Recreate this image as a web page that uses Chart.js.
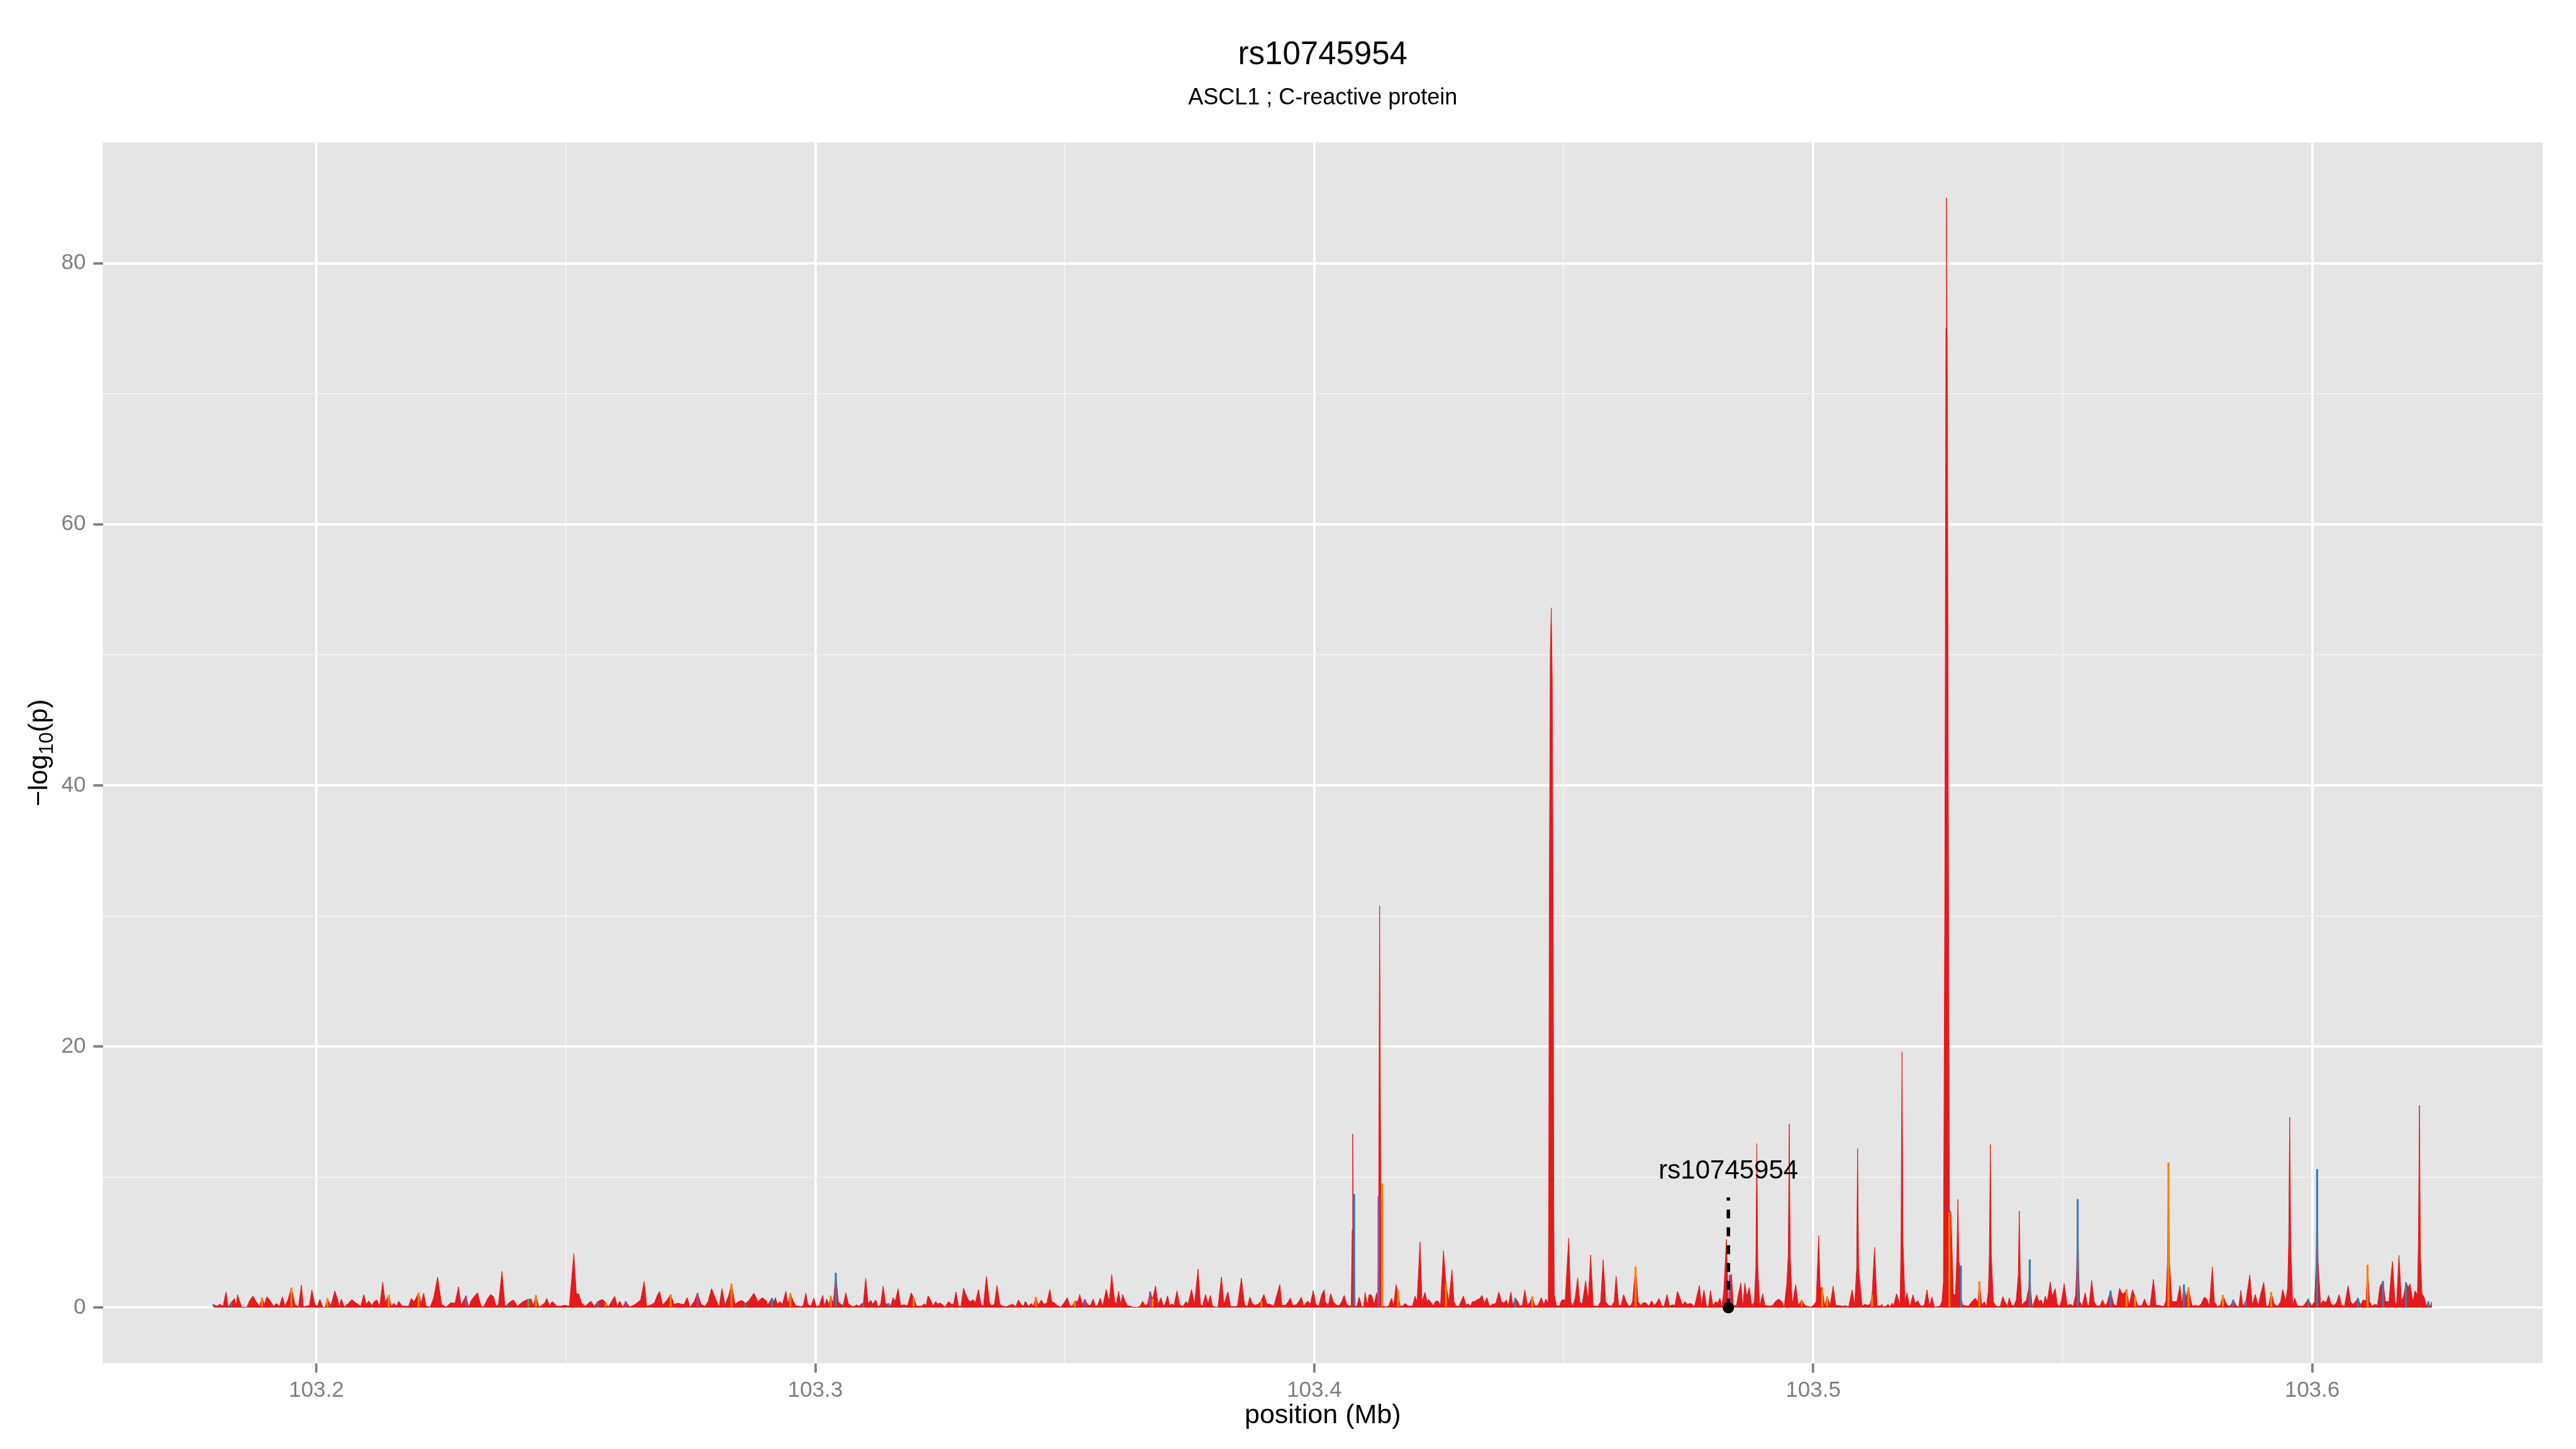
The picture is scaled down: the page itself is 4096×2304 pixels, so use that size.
<!DOCTYPE html>
<html>
<head>
<meta charset="utf-8">
<script src="https://cdn.jsdelivr.net/npm/chart.js@4.4.0/dist/chart.umd.min.js"></script>
<style>
  html, body { margin: 0; padding: 0; background: #fff; }
  #wrap { width: 4096px; height: 2304px; }
</style>
</head>
<body>
<div id="wrap"><canvas id="plot" width="4096" height="2304"></canvas></div>
<script>
// ---- data: [position (Mb), -log10(p)] ----
const titleText = 'rs10745954';
const subtitleText = 'ASCL1 ; C-reactive protein';
const xTitle = 'position (Mb)';

const xLimits = [103.1572, 103.6462];
const yLimits = [-4.25, 89.25];
const xMajor = [103.2, 103.3, 103.4, 103.5, 103.6];
const xMinor = [103.25, 103.35, 103.45, 103.55];
const yMajor = [0, 20, 40, 60, 80];
const yMinor = [10, 30, 50, 70];

// red area, 103.18 - 103.29
const redA = [[103.1794,0.26],[103.1800,0.12],[103.1807,0.26],[103.1813,0.12],[103.1819,1.22],[103.1823,0.05],[103.1829,0.40],[103.1836,0.71],[103.1839,0.15],[103.1842,1.00],[103.1850,0.05],[103.1861,0.05],[103.1866,0.53],[103.1873,0.90],[103.1879,0.47],[103.1886,0.12],[103.1891,0.77],[103.1896,0.26],[103.1901,0.85],[103.1909,0.44],[103.1914,0.12],[103.1920,0.33],[103.1926,0.12],[103.1932,0.84],[103.1937,0.12],[103.1943,0.60],[103.1950,1.53],[103.1957,0.26],[103.1964,0.05],[103.1970,1.74],[103.1974,0.08],[103.1980,0.12],[103.1986,0.19],[103.1991,1.36],[103.1997,0.26],[103.2002,0.12],[103.2007,0.64],[103.2013,0.05],[103.2018,0.05],[103.2022,0.70],[103.2029,0.12],[103.2037,1.29],[103.2043,0.58],[103.2046,0.05],[103.2050,0.67],[103.2056,0.05],[103.2064,0.33],[103.2071,0.63],[103.2078,0.40],[103.2089,0.12],[103.2095,1.01],[103.2100,0.26],[103.2105,0.53],[103.2111,0.16],[103.2116,0.47],[103.2121,0.60],[103.2127,0.12],[103.2133,1.97],[103.2138,0.40],[103.2145,0.95],[103.2150,0.12],[103.2155,0.33],[103.2161,0.12],[103.2165,0.50],[103.2171,0.16],[103.2180,0.12],[103.2185,0.12],[103.2190,0.71],[103.2196,0.47],[103.2205,1.15],[103.2210,0.33],[103.2215,1.12],[103.2220,0.12],[103.2228,0.05],[103.2235,0.74],[103.2243,2.34],[103.2251,0.26],[103.2260,0.05],[103.2269,0.37],[103.2278,0.36],[103.2285,1.60],[103.2290,0.19],[103.2300,0.92],[103.2305,0.05],[103.2310,0.53],[103.2315,0.80],[103.2323,1.15],[103.2330,0.12],[103.2335,0.05],[103.2343,0.67],[103.2349,1.01],[103.2355,0.85],[103.2360,0.12],[103.2365,0.26],[103.2372,2.79],[103.2378,0.12],[103.2383,0.26],[103.2389,0.47],[103.2395,0.60],[103.2403,0.12],[103.2414,0.47],[103.2425,0.67],[103.2430,0.67],[103.2435,0.12],[103.2440,0.95],[103.2446,0.05],[103.2457,0.33],[103.2462,0.71],[103.2467,0.16],[103.2473,0.47],[103.2482,0.12],[103.2489,0.12],[103.2498,0.19],[103.2507,0.12],[103.2516,4.14],[103.2521,1.08],[103.2526,1.04],[103.2532,0.33],[103.2539,0.12],[103.2550,0.50],[103.2557,0.12],[103.2564,0.47],[103.2573,0.64],[103.2580,0.40],[103.2585,0.05],[103.2598,0.88],[103.2603,0.12],[103.2608,0.51],[103.2614,0.05],[103.2620,0.47],[103.2628,0.05],[103.2639,0.26],[103.2650,0.60],[103.2657,2.01],[103.2662,0.12],[103.2671,0.22],[103.2678,0.40],[103.2684,1.01],[103.2688,1.25],[103.2694,0.19],[103.2703,0.60],[103.2710,1.01],[103.2717,0.26],[103.2725,0.36],[103.2732,0.26],[103.2737,0.26],[103.2743,0.78],[103.2749,0.05],[103.2757,0.47],[103.2764,1.12],[103.2771,0.26],[103.2779,0.12],[103.2785,0.47],[103.2792,1.47],[103.2801,0.60],[103.2807,0.05],[103.2813,1.47],[103.2819,0.19],[103.2827,1.01],[103.2832,1.84],[103.2839,0.26],[103.2846,0.47],[103.2853,0.56],[103.2860,0.33],[103.2867,0.56],[103.2877,1.11],[103.2885,0.47],[103.2894,0.78],[103.2903,0.47]];

// red area, 103.29 - 103.40
const redB = [[103.2904,0.19],[103.2913,0.74],[103.2917,0.47],[103.2920,0.77],[103.2924,0.26],[103.2929,0.47],[103.2934,0.26],[103.2941,1.26],[103.2945,0.26],[103.2950,1.10],[103.2956,0.47],[103.2961,0.16],[103.2967,0.12],[103.2972,0.08],[103.2976,0.19],[103.2981,1.12],[103.2985,0.26],[103.2991,0.12],[103.2997,0.74],[103.3002,0.08],[103.3008,0.19],[103.3015,0.95],[103.3018,0.12],[103.3023,0.67],[103.3027,0.26],[103.3031,0.90],[103.3036,0.33],[103.3041,2.66],[103.3046,0.47],[103.3051,0.26],[103.3056,0.19],[103.3061,1.15],[103.3066,0.33],[103.3070,0.19],[103.3076,0.08],[103.3083,0.22],[103.3088,0.12],[103.3093,0.33],[103.3096,0.26],[103.3101,2.25],[103.3106,0.26],[103.3111,0.58],[103.3115,0.26],[103.3121,0.60],[103.3126,0.08],[103.3131,0.26],[103.3136,1.66],[103.3141,0.26],[103.3147,0.33],[103.3151,0.12],[103.3156,0.78],[103.3160,0.47],[103.3166,1.45],[103.3171,0.19],[103.3178,0.22],[103.3185,0.16],[103.3192,1.15],[103.3197,0.77],[103.3203,0.12],[103.3208,0.12],[103.3213,0.12],[103.3218,0.30],[103.3222,0.16],[103.3226,0.92],[103.3231,0.60],[103.3236,0.12],[103.3241,0.47],[103.3246,0.26],[103.3249,0.38],[103.3254,0.26],[103.3260,0.05],[103.3267,0.47],[103.3273,0.26],[103.3277,0.26],[103.3282,1.22],[103.3287,0.12],[103.3292,0.12],[103.3297,1.49],[103.3302,1.01],[103.3307,0.56],[103.3312,0.47],[103.3316,0.63],[103.3321,0.40],[103.3327,1.40],[103.3332,0.26],[103.3337,0.12],[103.3343,2.42],[103.3349,0.40],[103.3353,0.16],[103.3359,0.26],[103.3364,1.70],[103.3370,0.26],[103.3376,0.12],[103.3383,0.08],[103.3389,0.19],[103.3396,0.26],[103.3402,0.08],[103.3407,0.60],[103.3412,0.26],[103.3417,0.12],[103.3421,0.49],[103.3427,0.12],[103.3433,0.33],[103.3437,0.12],[103.3442,0.81],[103.3447,0.19],[103.3453,0.60],[103.3458,0.26],[103.3464,0.36],[103.3470,1.40],[103.3474,0.47],[103.3480,0.36],[103.3485,0.16],[103.3492,0.05],[103.3499,0.40],[103.3505,0.77],[103.3510,0.16],[103.3515,0.12],[103.3520,0.51],[103.3526,0.47],[103.3530,1.01],[103.3535,0.26],[103.3540,0.63],[103.3546,0.22],[103.3551,0.16],[103.3557,0.67],[103.3561,0.12],[103.3566,0.19],[103.3571,0.74],[103.3576,0.12],[103.3583,1.40],[103.3589,0.47],[103.3594,2.55],[103.3600,0.47],[103.3603,0.26],[103.3608,1.26],[103.3612,0.26],[103.3616,1.01],[103.3621,0.47],[103.3626,0.16],[103.3631,0.12],[103.3638,0.03],[103.3646,0.05],[103.3651,0.12],[103.3656,0.50],[103.3661,0.19],[103.3666,0.26],[103.3671,1.22],[103.3676,0.67],[103.3682,1.67],[103.3687,0.26],[103.3693,0.77],[103.3697,0.16],[103.3701,0.26],[103.3706,0.92],[103.3710,0.16],[103.3714,0.30],[103.3719,0.19],[103.3725,1.29],[103.3730,0.26],[103.3735,0.12],[103.3738,0.16],[103.3743,0.47],[103.3747,0.26],[103.3754,1.40],[103.3760,0.26],[103.3767,2.96],[103.3772,0.26],[103.3776,0.12],[103.3782,1.01],[103.3787,0.33],[103.3792,0.95],[103.3796,0.12],[103.3802,0.05],[103.3807,0.05],[103.3814,2.36],[103.3819,0.26],[103.3827,1.22],[103.3832,0.12],[103.3839,0.08],[103.3846,0.12],[103.3854,2.27],[103.3860,0.26],[103.3866,0.08],[103.3871,0.81],[103.3876,0.33],[103.3881,0.19],[103.3887,0.26],[103.3893,0.49],[103.3899,1.01],[103.3905,0.30],[103.3912,0.26],[103.3919,0.12],[103.3931,1.79],[103.3935,0.19],[103.3942,0.19],[103.3947,0.40],[103.3952,0.74],[103.3957,0.19],[103.3964,0.22],[103.3969,0.47],[103.3974,0.81],[103.3979,0.12],[103.3984,0.40],[103.3987,0.51],[103.3992,0.26],[103.3998,1.32],[103.4003,0.26],[103.4009,0.12],[103.4015,1.01],[103.4020,1.38]];

// red area, 103.40 - 103.51
const redC = [[103.4022,0.47],[103.4028,0.16],[103.4033,1.08],[103.4038,0.47],[103.4043,0.22],[103.4050,0.16],[103.4055,0.47],[103.4060,0.95],[103.4065,0.26],[103.4070,0.16],[103.4074,0.12],[103.4076,6.0],[103.4077,13.3],[103.4079,5.0],[103.4082,0.16],[103.4085,0.05],[103.4090,0.81],[103.4095,0.08],[103.4099,0.08],[103.4102,1.18],[103.4106,0.19],[103.4110,1.01],[103.4115,0.95],[103.4120,0.26],[103.4125,1.15],[103.4127,0.12],[103.4129,6.0],[103.4131,30.8],[103.4133,12.0],[103.4135,1.0],[103.4138,0.12],[103.4143,0.05],[103.4149,0.12],[103.4155,0.74],[103.4159,0.12],[103.4164,1.77],[103.4168,1.15],[103.4172,0.12],[103.4177,0.12],[103.4182,0.33],[103.4187,0.16],[103.4192,0.12],[103.4197,0.15],[103.4202,0.88],[103.4206,0.47],[103.4212,5.05],[103.4216,0.47],[103.4222,1.18],[103.4226,0.47],[103.4229,0.63],[103.4233,0.47],[103.4238,0.16],[103.4244,0.53],[103.4249,0.47],[103.4253,0.16],[103.4259,4.37],[103.4264,1.77],[103.4270,0.47],[103.4276,2.90],[103.4280,0.47],[103.4284,0.12],[103.4290,0.12],[103.4294,0.47],[103.4299,0.90],[103.4304,0.22],[103.4309,0.30],[103.4313,0.12],[103.4317,0.47],[103.4321,0.47],[103.4326,0.60],[103.4332,0.71],[103.4336,0.95],[103.4341,0.36],[103.4346,0.77],[103.4351,0.12],[103.4357,0.26],[103.4364,0.33],[103.4370,1.22],[103.4375,0.47],[103.4380,0.36],[103.4385,0.60],[103.4389,0.16],[103.4394,1.22],[103.4398,0.19],[103.4403,0.74],[103.4408,0.47],[103.4412,0.12],[103.4417,0.19],[103.4422,1.38],[103.4427,0.19],[103.4432,0.40],[103.4437,0.85],[103.4442,0.16],[103.4448,0.16],[103.4455,0.77],[103.4460,0.22],[103.4464,0.67],[103.4468,0.40],[103.4469,0.60],[103.4470,10.0],[103.4471,30.0],[103.4473,50.0],[103.4475,53.6],[103.4477,48.0],[103.4479,28.0],[103.4480,8.0],[103.4481,1.0],[103.4485,0.19],[103.4491,0.12],[103.4496,0.60],[103.4503,0.60],[103.4510,5.33],[103.4514,0.47],[103.4518,0.12],[103.4523,0.74],[103.4528,2.29],[103.4532,0.47],[103.4537,0.26],[103.4544,2.07],[103.4549,0.47],[103.4554,4.05],[103.4559,0.19],[103.4564,0.12],[103.4569,0.12],[103.4574,0.47],[103.4579,3.68],[103.4584,0.47],[103.4589,0.19],[103.4596,0.12],[103.4601,0.47],[103.4605,2.41],[103.4610,0.19],[103.4615,0.19],[103.4620,1.01],[103.4625,0.47],[103.4629,0.19],[103.4634,0.12],[103.4638,0.47],[103.4644,3.14],[103.4649,0.47],[103.4654,0.19],[103.4660,0.40],[103.4665,0.36],[103.4671,0.12],[103.4676,0.53],[103.4681,0.19],[103.4686,0.36],[103.4691,0.71],[103.4696,0.19],[103.4701,0.08],[103.4707,1.01],[103.4712,0.12],[103.4717,0.22],[103.4723,0.19],[103.4728,1.26],[103.4733,0.74],[103.4738,0.19],[103.4743,0.47],[103.4748,0.26],[103.4753,0.33],[103.4756,0.30],[103.4762,0.08],[103.4767,0.90],[103.4772,1.70],[103.4776,0.19],[103.4781,1.36],[103.4786,0.16],[103.4790,0.05],[103.4794,1.32],[103.4799,0.16],[103.4805,0.47],[103.4809,0.36],[103.4813,0.74],[103.4817,0.05],[103.4821,1.42],[103.4826,5.23],[103.4830,0.47],[103.4833,0.40],[103.4836,2.59],[103.4840,0.19],[103.4846,0.16],[103.4850,1.01],[103.4855,1.90],[103.4859,0.05],[103.4863,1.90],[103.4867,0.88],[103.4872,1.56],[103.4877,0.12],[103.4882,0.47],[103.4885,3.0],[103.4887,12.58],[103.4889,3.0],[103.4893,0.12],[103.4899,1.08],[103.4903,0.19],[103.4907,0.16],[103.4913,0.12],[103.4919,0.19],[103.4924,0.47],[103.4931,0.67],[103.4937,0.47],[103.4942,0.05],[103.4947,1.77],[103.4950,4.0],[103.4952,14.08],[103.4954,4.0],[103.4958,0.19],[103.4965,1.77],[103.4970,0.19],[103.4977,0.60],[103.4983,0.19],[103.4988,0.12],[103.4995,0.05],[103.5000,0.16],[103.5006,0.47],[103.5011,5.53],[103.5014,1.5],[103.5018,1.56],[103.5023,0.12],[103.5028,0.85],[103.5034,0.19],[103.5040,1.67],[103.5045,0.19],[103.5052,0.16],[103.5059,0.12],[103.5066,0.16],[103.5071,0.05],[103.5078,1.36],[103.5083,0.19],[103.5087,3.0],[103.5089,12.2],[103.5091,3.0],[103.5098,0.12],[103.5103,0.26],[103.5109,0.19],[103.5114,0.26],[103.5118,0.95],[103.5123,4.64],[103.5128,0.19],[103.5134,0.12],[103.5138,0.26]];

// red area, 103.51 - 103.624
const redD = [[103.5140,0.05],[103.5146,0.12],[103.5150,0.26],[103.5154,0.05],[103.5158,0.36],[103.5161,0.12],[103.5167,1.08],[103.5172,0.47],[103.5174,0.3],[103.5176,5.0],[103.5178,19.6],[103.5180,5.0],[103.5184,0.47],[103.5188,1.15],[103.5193,0.12],[103.5195,0.26],[103.5200,0.99],[103.5204,0.36],[103.5210,0.53],[103.5214,0.19],[103.5218,0.12],[103.5223,0.22],[103.5228,1.36],[103.5233,0.12],[103.5238,0.81],[103.5243,0.05],[103.5248,0.08],[103.5254,0.12],[103.5258,0.47],[103.5261,2.0],[103.5264,35.0],[103.5266,75.0],[103.5267,85.0],[103.5269,70.0],[103.5271,35.0],[103.5273,7.5],[103.5276,7.3],[103.5281,1.0],[103.5285,1.01],[103.5288,4.0],[103.5290,8.3],[103.5292,3.5],[103.5294,3.2],[103.5297,0.6],[103.5300,0.19],[103.5305,0.16],[103.5311,0.12],[103.5318,0.47],[103.5325,0.74],[103.5330,0.40],[103.5333,2.0],[103.5338,0.19],[103.5343,0.47],[103.5347,0.05],[103.5351,1.29],[103.5353,4.0],[103.5355,12.5],[103.5357,4.0],[103.5361,0.47],[103.5365,0.19],[103.5370,0.08],[103.5375,0.12],[103.5380,0.85],[103.5384,0.47],[103.5389,0.12],[103.5393,0.74],[103.5397,0.26],[103.5402,0.12],[103.5407,0.60],[103.5411,2.5],[103.5413,7.4],[103.5415,2.5],[103.5418,0.16],[103.5424,0.47],[103.5427,0.53],[103.5432,1.5],[103.5434,3.68],[103.5436,1.2],[103.5439,0.05],[103.5443,0.47],[103.5448,0.99],[103.5452,0.47],[103.5457,0.58],[103.5461,0.16],[103.5465,0.88],[103.5469,0.47],[103.5475,1.97],[103.5479,0.88],[103.5485,1.47],[103.5489,0.26],[103.5494,0.12],[103.5498,0.60],[103.5503,1.86],[103.5509,0.19],[103.5516,0.26],[103.5521,0.12],[103.5526,1.01],[103.5528,3.0],[103.5530,8.3],[103.5532,3.0],[103.5534,0.47],[103.5539,0.12],[103.5545,1.15],[103.5550,0.19],[103.5553,0.19],[103.5558,2.08],[103.5563,0.47],[103.5568,0.12],[103.5575,0.16],[103.5580,0.60],[103.5585,0.16],[103.5589,0.36],[103.5596,1.29],[103.5602,0.26],[103.5608,0.12],[103.5614,1.49],[103.5619,1.08],[103.5623,1.08],[103.5628,1.40],[103.5633,0.19],[103.5640,1.38],[103.5645,0.85],[103.5650,0.19],[103.5655,0.12],[103.5659,0.19],[103.5664,0.67],[103.5669,0.19],[103.5675,0.12],[103.5682,2.18],[103.5687,0.19],[103.5692,0.19],[103.5698,0.12],[103.5703,0.12],[103.5707,0.53],[103.5710,3.5],[103.5712,11.1],[103.5714,3.5],[103.5719,0.47],[103.5724,0.47],[103.5729,0.47],[103.5735,1.70],[103.5739,0.26],[103.5743,1.77],[103.5747,0.74],[103.5752,1.56],[103.5757,0.53],[103.5760,0.12],[103.5766,0.19],[103.5772,0.12],[103.5777,0.26],[103.5784,0.81],[103.5789,0.67],[103.5794,0.12],[103.5800,3.11],[103.5804,0.47],[103.5810,0.08],[103.5816,0.19],[103.5821,0.95],[103.5826,0.47],[103.5831,0.12],[103.5837,0.19],[103.5842,0.60],[103.5848,0.16],[103.5853,0.05],[103.5857,1.33],[103.5861,0.12],[103.5867,0.47],[103.5875,2.52],[103.5880,0.19],[103.5886,1.01],[103.5892,0.16],[103.5897,1.08],[103.5903,1.95],[103.5908,0.12],[103.5913,0.12],[103.5918,1.18],[103.5924,0.26],[103.5931,0.12],[103.5937,0.47],[103.5941,1.42],[103.5947,0.47],[103.5951,1.56],[103.5953,5.0],[103.5955,14.6],[103.5957,5.0],[103.5961,0.19],[103.5965,0.74],[103.5970,0.19],[103.5975,0.12],[103.5981,0.12],[103.5985,0.26],[103.5992,0.67],[103.5999,0.12],[103.6005,0.47],[103.6008,3.5],[103.6010,10.6],[103.6012,3.5],[103.6017,0.26],[103.6022,0.53],[103.6028,0.40],[103.6033,0.95],[103.6038,0.26],[103.6044,0.19],[103.6049,0.40],[103.6054,1.01],[103.6059,0.19],[103.6065,0.12],[103.6072,1.70],[103.6077,0.47],[103.6082,0.26],[103.6087,0.47],[103.6092,0.74],[103.6097,0.19],[103.6102,0.60],[103.6108,0.53],[103.6111,3.27],[103.6115,0.47],[103.6120,0.12],[103.6125,0.26],[103.6131,0.19],[103.6136,1.63],[103.6142,2.04],[103.6147,0.47],[103.6154,0.47],[103.6158,2.38],[103.6161,3.55],[103.6166,0.47],[103.6169,0.12],[103.6174,4.03],[103.6179,0.47],[103.6184,1.01],[103.6188,1.93],[103.6193,1.56],[103.6196,1.84],[103.6202,0.47],[103.6206,1.29],[103.6211,1.01],[103.6213,5.0],[103.6215,15.5],[103.6217,4.0],[103.6220,1.08],[103.6225,0.74],[103.6229,0.12],[103.6233,0.47],[103.6236,0.05],[103.6240,0.47]];

// thin coloured slivers on top of the red area
const orangePos = [103.1891,103.1950,103.2022,103.2145,103.2205,103.2440,103.2580,103.2710,103.2832,103.2950,103.3031,103.3197,103.3442,103.3520,103.3676,103.3894,103.4136,103.4168,103.4264,103.4437,103.4644,103.4977,103.5018,103.5028,103.5118,103.5273,103.5333,103.5628,103.5645,103.5712,103.5752,103.5821,103.5918,103.6111];
const orangeVal = [0.77,1.53,0.70,0.95,1.15,0.95,0.40,1.01,1.84,1.10,0.90,0.77,0.81,0.51,0.67,0.49,9.5,1.30,1.77,0.85,3.14,0.60,1.56,0.85,0.95,7.3,2.0,1.40,0.85,11.1,1.56,0.95,1.18,3.27];
const bluePos = [103.1794,103.1829,103.2383,103.2564,103.2860,103.2913,103.3041,103.3096,103.3147,103.4080,103.4403,103.5296,103.5434,103.5530,103.5596,103.5743,103.5842,103.5867,103.5992,103.6010,103.6092,103.6142,103.6188,103.6233];
const blueVal = [0.26,0.40,0.26,0.47,0.33,0.74,2.66,0.26,0.33,8.7,0.74,3.2,3.68,8.3,1.29,1.77,0.60,0.47,0.67,10.6,0.74,2.04,1.93,0.47];
const purplePos = [103.2300,103.2620,103.2764,103.3540,103.3671,103.4129,103.4833];
const purpleVal = [0.92,0.47,1.12,0.63,1.22,8.5,2.5];
const greenPos = [103.2425];
const greenVal = [0.67];

// highlighted SNP
const markerPos = 103.4830;
const markerTop = 8.45;
const markerLabelY = 9.9;
const markerLabel = 'rs10745954';

// ---- build chart ----
const RED = '#E41A1C', ORANGE = '#FF7F00', BLUE = '#377EB8', PURPLE = '#984EA3', GREEN = '#4DAF4A';
const FONT = '"Liberation Sans", Arial, Helvetica, sans-serif';
Chart.defaults.font.family = FONT;

const redData = [...redA, ...redB, ...redC, ...redD].map(([x, y]) => ({ x, y }));

const spikeData = [], spikeColors = [];
[[orangePos, orangeVal, ORANGE], [bluePos, blueVal, BLUE], [purplePos, purpleVal, PURPLE], [greenPos, greenVal, GREEN]]
  .forEach(([p, v, c]) => p.forEach((x, i) => { spikeData.push({ x, y: v[i] }); spikeColors.push(c); }));

const tickVal = c => (c && c.tick) ? c.tick.value : NaN;
const isMajorX = v => xMajor.some(m => Math.abs(m - v) < 1e-9);
const isMajorY = v => yMajor.includes(v);

const ggText = {
  id: 'ggText',
  beforeDraw(chart) {
    const { ctx, chartArea: a } = chart;
    ctx.save();
    ctx.fillStyle = '#e5e5e5';
    ctx.fillRect(a.left, a.top, a.right - a.left, a.bottom - a.top);
    ctx.restore();
  },
  afterDatasetsDraw(chart) {
    const { ctx, scales } = chart;
    ctx.save();
    ctx.fillStyle = '#000';
    ctx.textAlign = 'center';
    ctx.textBaseline = 'alphabetic';
    ctx.font = '42px ' + FONT;
    ctx.fillText(markerLabel, scales.x.getPixelForValue(markerPos), scales.y.getPixelForValue(markerLabelY));
    ctx.restore();
  },
  afterDraw(chart) {
    const { ctx, chartArea: a } = chart;
    const cx = (a.left + a.right) / 2;
    ctx.save();
    ctx.fillStyle = '#000';
    ctx.textAlign = 'center';
    ctx.textBaseline = 'alphabetic';
    ctx.font = '51px ' + FONT;
    ctx.fillText(titleText, cx, 102);
    ctx.font = '36px ' + FONT;
    ctx.fillText(subtitleText, cx, 166);
    ctx.font = '43px ' + FONT;
    ctx.fillText(xTitle, cx, 2263);

    // y title: −log10(p) with subscript
    ctx.translate(75, (a.top + a.bottom) / 2);
    ctx.rotate(-Math.PI / 2);
    ctx.textAlign = 'left';
    const big = '43px ' + FONT, small = '32px ' + FONT;
    ctx.font = big; const w1 = ctx.measureText('\u2212log').width, w3 = ctx.measureText('(p)').width;
    ctx.font = small; const w2 = ctx.measureText('10').width;
    let x = -(w1 + w2 + w3) / 2;
    ctx.font = big; ctx.fillText('\u2212log', x, 0); x += w1;
    ctx.font = small; ctx.fillText('10', x, 8.5); x += w2;
    ctx.font = big; ctx.fillText('(p)', x, 0);
    ctx.restore();
  }
};

new Chart(document.getElementById('plot'), {
  type: 'line',
  data: {
    datasets: [
      { label: 'lead SNP', data: [{ x: markerPos, y: 0 }], showLine: false,
        pointRadius: 9, pointBackgroundColor: '#000', pointBorderWidth: 0, order: 0 },
      { label: 'lead SNP line', data: [{ x: markerPos, y: 0 }, { x: markerPos, y: markerTop }],
        borderColor: '#000', borderWidth: 5.5, borderDash: [14.2, 14.2], borderCapStyle: 'butt',
        pointRadius: 0, fill: false, order: 1 },
      { type: 'bar', label: 'other', data: spikeData, backgroundColor: spikeColors,
        barThickness: 2.5, stack: 'spikes', borderWidth: 0, order: 2 },
      { label: '-log10(p)', data: redData, borderColor: RED, backgroundColor: RED,
        borderWidth: 1, borderJoinStyle: 'bevel', fill: 'origin', tension: 0,
        pointRadius: 0, order: 3 }
    ]
  },
  options: {
    responsive: false,
    devicePixelRatio: 1,
    animation: false,
    events: [],
    layout: { padding: { top: 226.4, right: 53, left: 0, bottom: 0 } },
    plugins: { legend: { display: false }, title: { display: false }, tooltip: { enabled: false } },
    scales: {
      x: {
        type: 'linear', min: xLimits[0], max: xLimits[1], offset: false,
        afterBuildTicks: s => { s.ticks = [...xMajor, ...xMinor].sort((a, b) => a - b).map(v => ({ value: v })); },
        afterFit: s => { s.height = 2304 - 2167.6; },
        border: { display: false },
        grid: {
          offset: false,
          color: c => isMajorX(tickVal(c)) ? '#ffffff' : '#f2f2f2',
          lineWidth: c => isMajorX(tickVal(c)) ? 3.8 : 1.9,
          tickColor: c => isMajorX(tickVal(c)) ? '#7f7f7f' : 'rgba(0,0,0,0)',
          tickWidth: 3.8, tickLength: 15
        },
        ticks: {
          autoSkip: false, maxRotation: 0, padding: 8, color: '#7f7f7f',
          font: { size: 35 },
          callback: v => isMajorX(v) ? v.toFixed(1) : ''
        }
      },
      y: {
        type: 'linear', min: yLimits[0], max: yLimits[1],
        afterBuildTicks: s => { s.ticks = [...yMajor, ...yMinor].sort((a, b) => a - b).map(v => ({ value: v })); },
        afterFit: s => { s.width = 163.5; },
        border: { display: false },
        grid: {
          offset: false,
          color: c => isMajorY(tickVal(c)) ? '#ffffff' : '#f2f2f2',
          lineWidth: c => isMajorY(tickVal(c)) ? 3.8 : 1.9,
          tickColor: c => isMajorY(tickVal(c)) ? '#7f7f7f' : 'rgba(0,0,0,0)',
          tickWidth: 3.8, tickLength: 15
        },
        ticks: {
          autoSkip: false, padding: 12, color: '#7f7f7f',
          font: { size: 35 },
          callback: v => isMajorY(v) ? String(v) : ''
        }
      }
    }
  },
  plugins: [ggText]
});
</script>
</body>
</html>
